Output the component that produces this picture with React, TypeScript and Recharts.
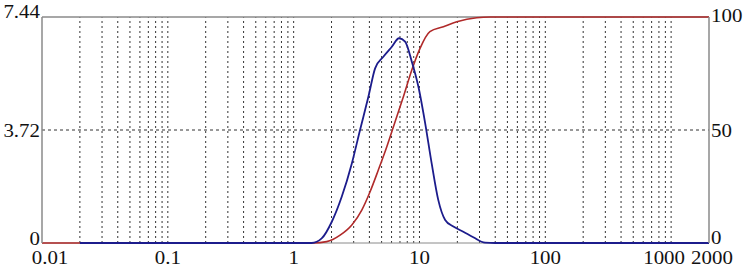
import { LineChart, Line, XAxis, YAxis, ReferenceLine } from 'recharts'

// particle size (x) and frequency % (left axis)
const freqSizes = [0.02, 1.39, 1.67, 2.01, 2.41, 2.9, 3.37, 3.93, 4.44, 5.16, 6.03, 6.88, 7.69, 8.69, 9.8, 11.1, 12.5, 14.1, 16.0, 18.6, 22.3, 26.8, 33.2, 40, 2000]
const freqValues = [0, 0, 0.15, 0.7, 1.52, 2.62, 3.72, 4.82, 5.75, 6.13, 6.46, 6.74, 6.63, 5.97, 5.15, 3.94, 2.62, 1.42, 0.76, 0.54, 0.37, 0.19, 0.01, 0, 0]

// cumulative % (right axis)
const cumSizes = [0.01, 1.43, 1.83, 2.34, 2.9, 3.48, 4.05, 4.71, 5.5, 6.4, 7.45, 8.69, 10.1, 12.1, 15.5, 19.8, 28.5, 36.4, 2000]
const cumValues = [0, 0, 0.6, 3.5, 8, 14.6, 22.7, 32.3, 42.6, 53.7, 64.7, 76.5, 86.1, 93.5, 95.7, 97.9, 99.7, 100, 100]

const xTicks = [0.01, 0.1, 1, 10, 100, 1000, 2000]
const leftTicks = [0, 3.72, 7.44]
const rightTicks = [0, 50, 100]

const decades = [0.01, 0.1, 1, 10, 100, 1000]
const multipliers = [1, 2, 3, 4, 5, 6, 7, 8, 9]
const gridX = decades
  .flatMap((d) => multipliers.map((m) => +(d * m).toPrecision(3)))
  .filter((v) => v > 0.01 && v < 2000)

const freqData = freqSizes.map((x, i) => ({ x, v: freqValues[i] }))
const cumData = cumSizes.map((x, i) => ({ x, v: cumValues[i] }))

const FONT = '"Liberation Serif", "Times New Roman", serif'
const AXIS = '#8a8a8a'

function XTick({ x, y, payload }: any) {
  const v = payload.value
  const shift = v === 0.01 ? 8 : v === 1000 ? -7 : v === 2000 ? 3 : 0
  return (
    <text
      transform={`translate(${x + shift},${y + 14}) scale(1.1,1)`}
      textAnchor="middle"
      dy="0.35em"
      fontFamily={FONT}
      fontSize={19}
      fill="#111"
    >
      {v}
    </text>
  )
}

function LeftTick({ x, y, payload }: any) {
  const v = payload.value
  const shift = v === 7.44 ? -6 : v === 0 ? -5 : 0
  return (
    <text
      transform={`translate(${x - 2},${y + shift}) scale(1.1,1)`}
      textAnchor="end"
      dy="0.35em"
      fontFamily={FONT}
      fontSize={19}
      fill="#111"
    >
      {v}
    </text>
  )
}

function RightTick({ x, y, payload }: any) {
  const v = payload.value
  const shift = v === 100 ? -2 : v === 0 ? -6 : 0
  return (
    <text
      transform={`translate(${x + 2},${y + shift}) scale(1.1,1)`}
      textAnchor="start"
      dy="0.35em"
      fontFamily={FONT}
      fontSize={19}
      fill="#111"
    >
      {v}
    </text>
  )
}

export default function App() {
  return (
    <div style={{ position: 'absolute', left: 0, top: 0, background: '#fff' }}>
      <LineChart width={746} height={268} margin={{ top: 17, right: 0, bottom: 0, left: 0 }}>
        <XAxis
          dataKey="x"
          type="number"
          scale="log"
          domain={[0.01, 2000]}
          ticks={xTicks}
          interval={0}
          height={25}
          tickSize={0}
          tickMargin={0}
          tickLine={false}
          axisLine={false}
          tick={<XTick />}
        />
        <YAxis
          yAxisId="left"
          domain={[0, 7.44]}
          ticks={leftTicks}
          interval={0}
          width={42}
          tickSize={0}
          tickMargin={0}
          tickLine={false}
          axisLine={{ stroke: AXIS, strokeWidth: 1.5 }}
          tick={<LeftTick />}
        />
        <YAxis
          yAxisId="right"
          orientation="right"
          domain={[0, 100]}
          ticks={rightTicks}
          interval={0}
          width={37}
          tickSize={0}
          tickMargin={0}
          tickLine={false}
          axisLine={{ stroke: AXIS, strokeWidth: 1.5 }}
          tick={<RightTick />}
        />
        {gridX.map((g) => (
          <ReferenceLine key={g} x={g} yAxisId="left" stroke="#333" strokeWidth={1} strokeDasharray="2 3" />
        ))}
        <ReferenceLine y={3.72} yAxisId="left" stroke="#333" strokeWidth={1} strokeDasharray="3 3" />
        <ReferenceLine y={7.44} yAxisId="left" stroke={AXIS} strokeWidth={1.5} />
        <ReferenceLine y={0} yAxisId="left" stroke={AXIS} strokeWidth={1} />
        <Line
          data={cumData}
          yAxisId="right"
          dataKey="v"
          type="monotone"
          stroke="#b02a2a"
          strokeWidth={1.6}
          dot={false}
          isAnimationActive={false}
        />
        <Line
          data={freqData}
          yAxisId="left"
          dataKey="v"
          type="monotone"
          stroke="#1c1c8c"
          strokeWidth={1.8}
          dot={false}
          isAnimationActive={false}
        />
      </LineChart>
    </div>
  )
}
